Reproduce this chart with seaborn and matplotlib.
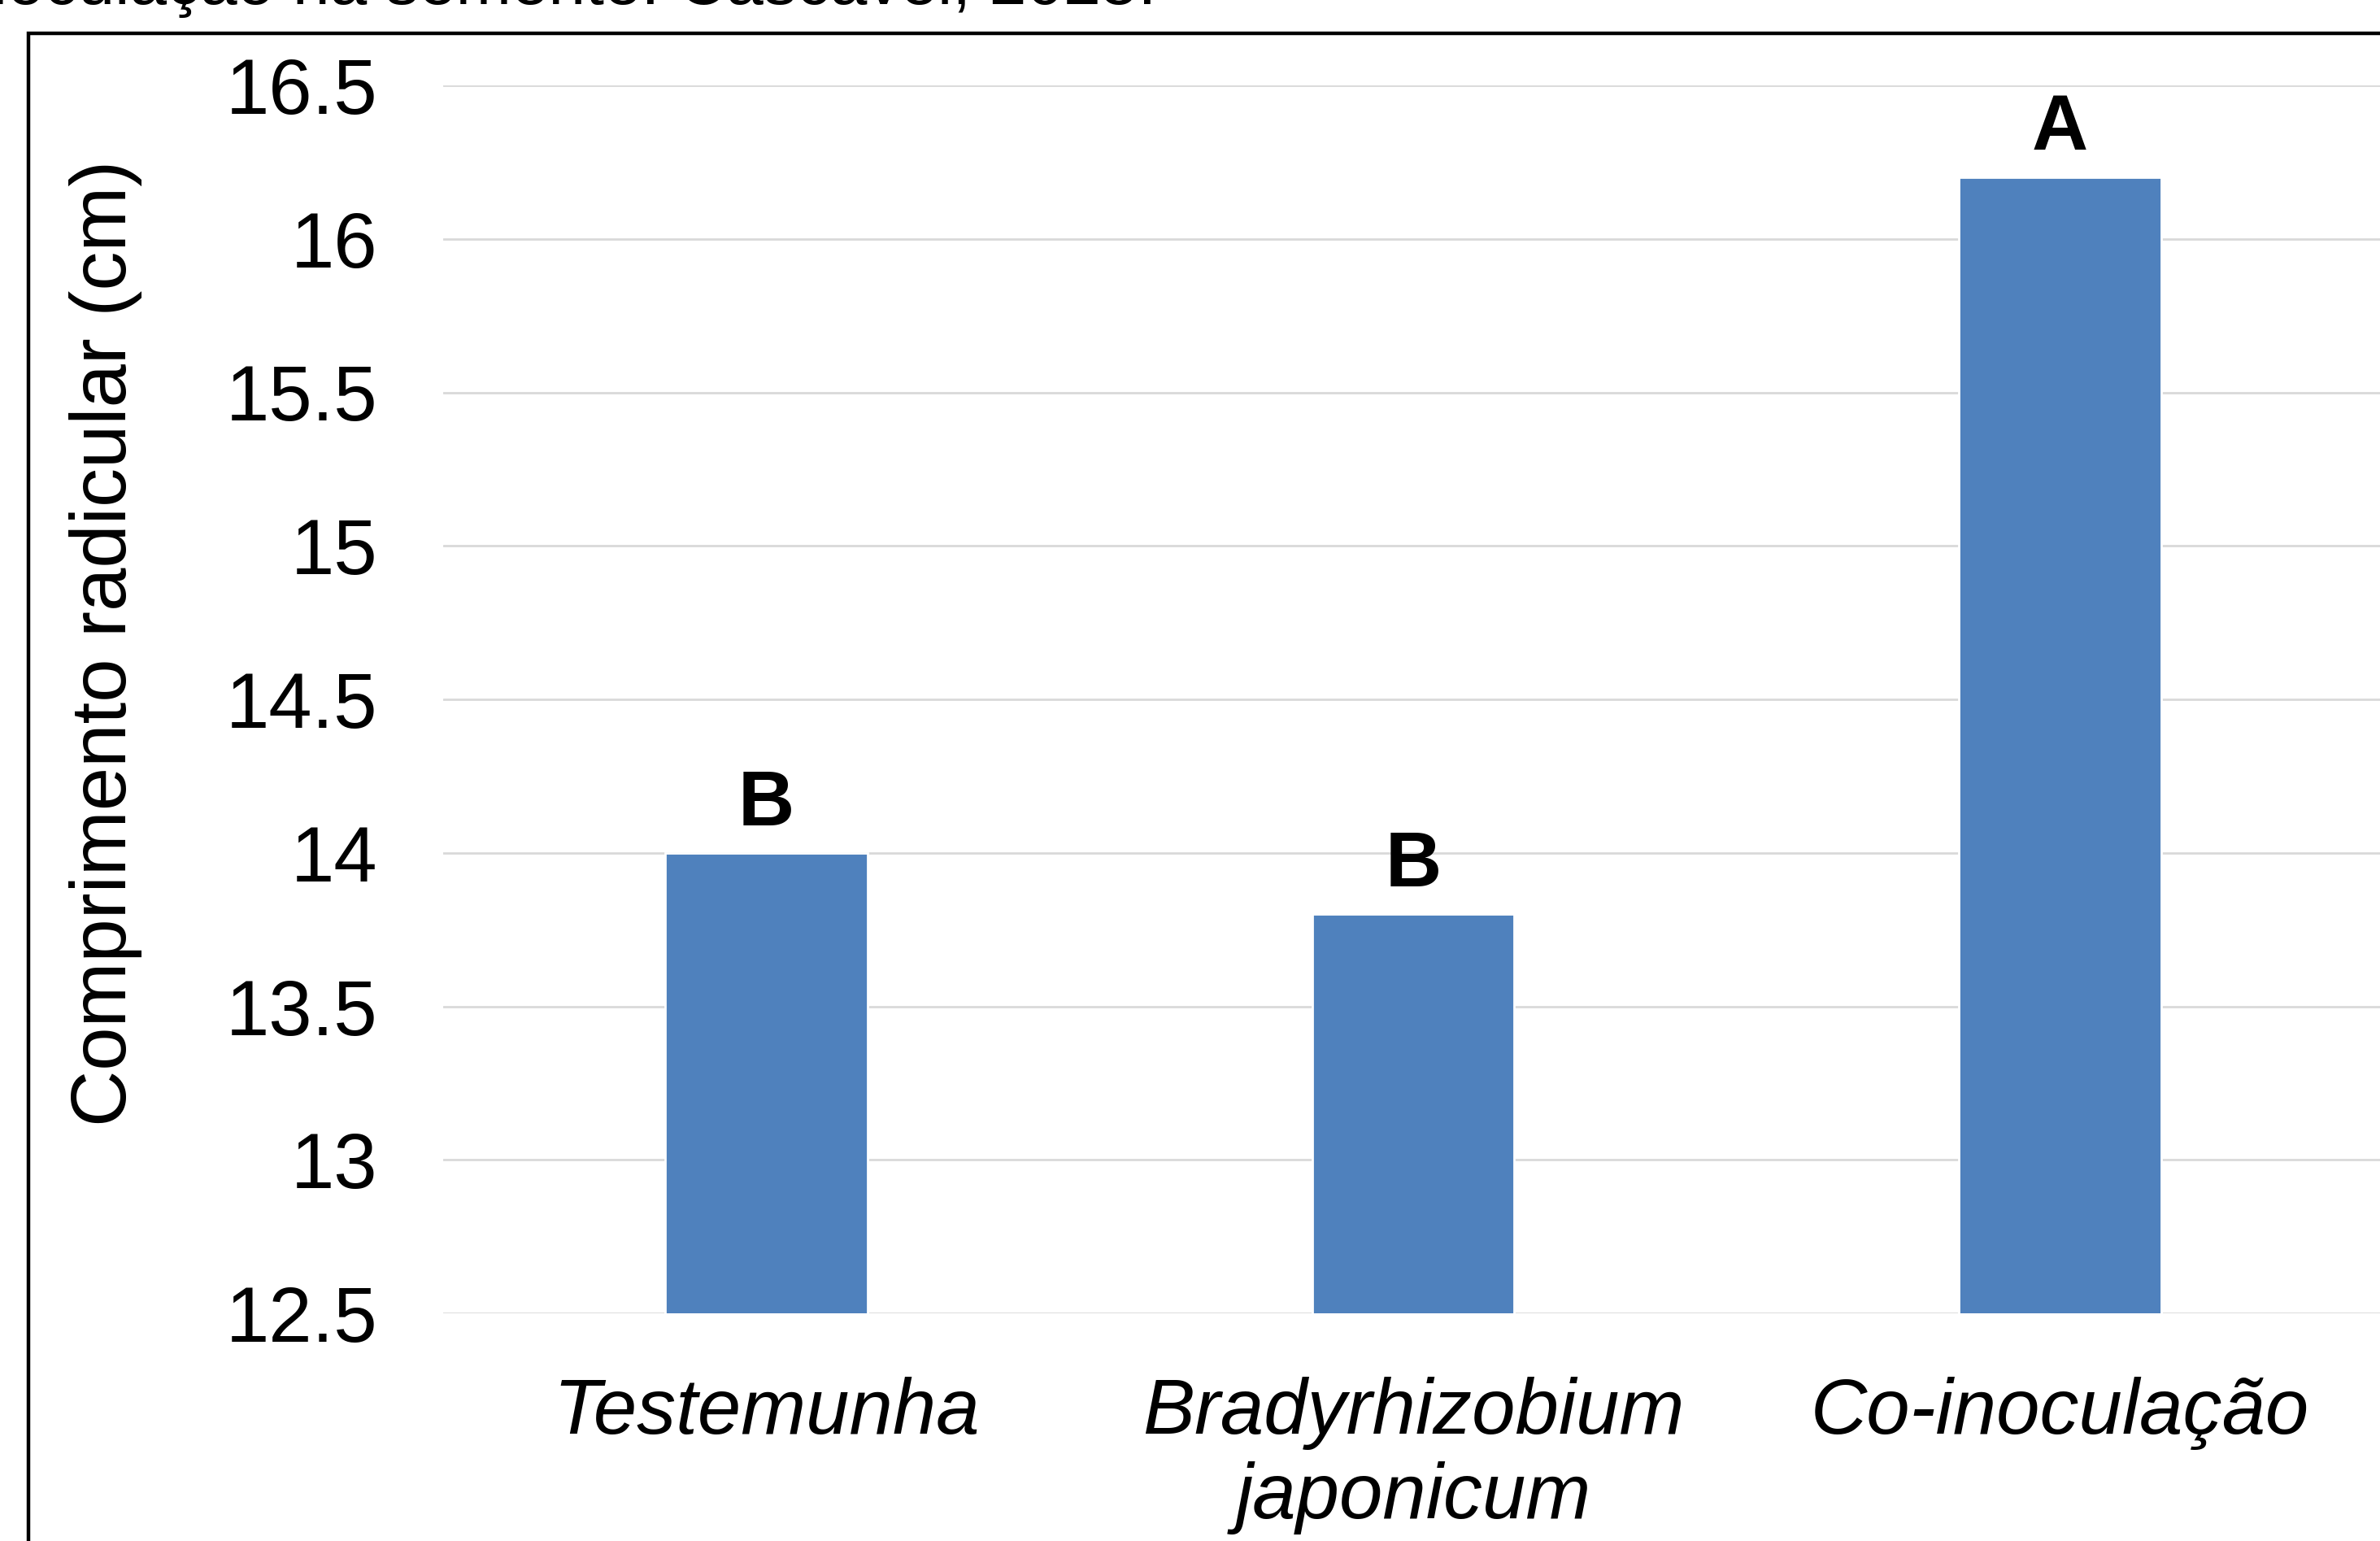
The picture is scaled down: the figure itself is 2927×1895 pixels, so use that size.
import matplotlib
matplotlib.use("Agg")
import matplotlib.pyplot as plt
import matplotlib.patches as mpatches
import pandas as pd
import seaborn as sns

# data
tratamentos = ["Testemunha", "Bradyrhizobium\njaponicum", "Co-inoculação"]
comprimento = [14.0, 13.8, 16.2]
letras = ["B", "B", "A"]
y_ticks = [12.5, 13, 13.5, 14, 14.5, 15, 15.5, 16, 16.5]
y_tick_labels = ["12.5", "13", "13.5", "14", "14.5", "15", "15.5", "16", "16.5"]

sns.set_theme(style="white")
plt.rcParams["font.family"] = ["Liberation Sans", "DejaVu Sans"]
plt.rcParams["text.color"] = "black"
plt.rcParams["xtick.color"] = "black"
plt.rcParams["ytick.color"] = "black"
plt.rcParams["axes.labelcolor"] = "black"

FS = 34.5

df = pd.DataFrame({"tratamento": tratamentos, "comprimento": comprimento})

W, H, DPI = 2927, 1895, 200
fig = plt.figure(figsize=(W / DPI, H / DPI), dpi=DPI)
ax = fig.add_axes([545 / W, 1 - 1615 / H, 2386 / W, (1615 - 105) / H])

sns.barplot(data=df, x="tratamento", y="comprimento", color="#4F81BD",
            width=0.313, saturation=1, ax=ax)

ax.set_ylim(12.5, 16.5)
ax.set_yticks(y_ticks)
ax.set_yticklabels(y_tick_labels)
ax.yaxis.grid(True, color="#d9d9d9", linewidth=1.0)
ax.set_axisbelow(True)
for s in ax.spines.values():
    s.set_visible(False)

ax.tick_params(axis="y", length=0, pad=29, labelsize=FS)
ax.tick_params(axis="x", length=0, pad=28, labelsize=FS)
for lab in ax.get_xticklabels():
    lab.set_fontstyle("italic")

ax.set_xlabel("")
ax.set_ylabel("Comprimento radicular (cm)", fontsize=FS, va="center")
ax.yaxis.set_label_coords(-0.1738, 0.546)

# significance letters
for i, (v, l) in enumerate(zip(comprimento, letras)):
    ax.annotate(l, (i, v), xytext=(0, 5), textcoords="offset points",
                ha="center", va="bottom", fontsize=FS, fontweight="bold")

# outer chart frame (cut by the image edge on right and bottom)
fig.patches.append(mpatches.Rectangle((35 / W, -0.1), 1.2, 1.1 - 41 / H,
                                      transform=fig.transFigure, fill=False,
                                      edgecolor="black", linewidth=1.6))

# caption line partially cut at the top
fig.text(1422 / W, 1 - 5 / H, "inoculação na semente. Cascavel, 2025.",
         ha="right", va="baseline", fontsize=29.5, color="black")

fig.savefig("out.png", dpi=DPI, facecolor="white")
